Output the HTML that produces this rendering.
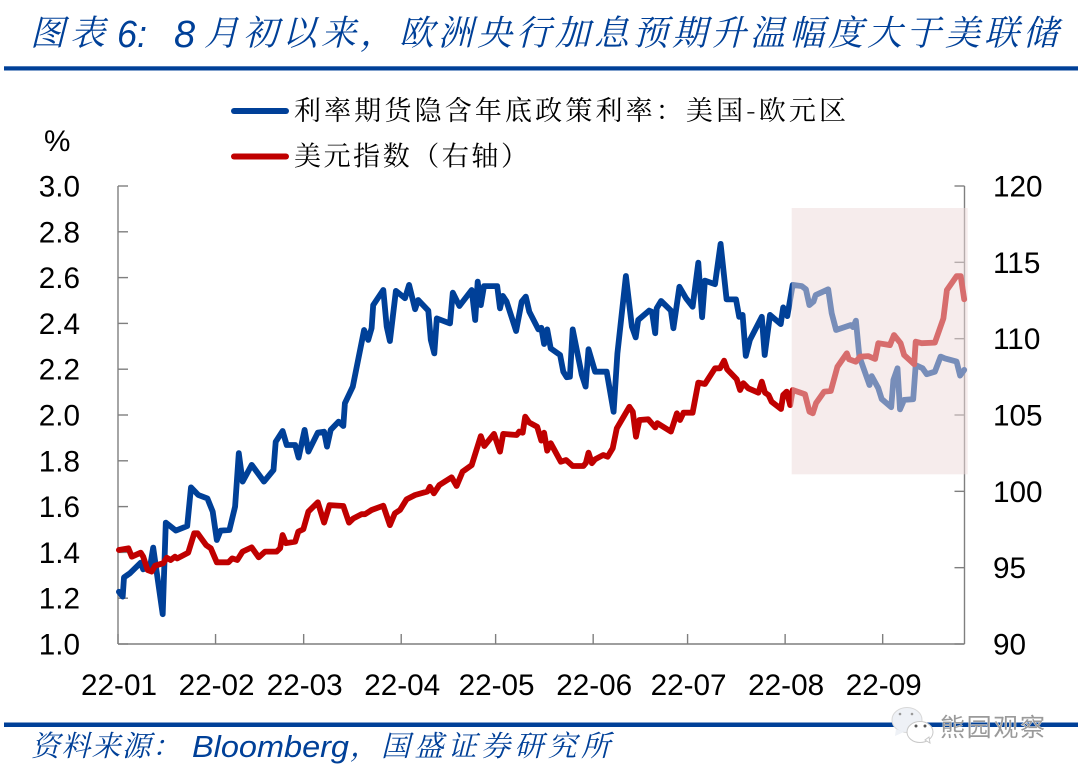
<!DOCTYPE html>
<html lang="zh">
<head>
<meta charset="utf-8">
<title>图表 6</title>
<style>
html,body{margin:0;padding:0;background:#fff;width:1080px;height:774px;overflow:hidden}
svg{display:block}
.tick-label{font-family:"Liberation Sans","Noto Sans CJK SC",sans-serif;font-size:29.7px;fill:#000}
.legend-text{font-family:"Noto Serif CJK SC","Liberation Serif",serif;font-size:27px;fill:#000}
.title-cjk{font-family:"Noto Serif CJK SC","Liberation Serif",serif;font-style:italic;font-size:35px;fill:#004098}
.title-latin{font-family:"Liberation Sans",sans-serif;font-style:italic;font-size:38px;fill:#004098}
.source-cjk{font-family:"Noto Serif CJK SC","Liberation Serif",serif;font-style:italic;font-size:29px;fill:#004098}
.source-latin{font-family:"Liberation Sans",sans-serif;font-style:italic;font-size:31px;fill:#004098}
</style>
</head>
<body>
<svg id="chart" xmlns="http://www.w3.org/2000/svg" width="1080" height="774" viewBox="0 0 1080 774">
  <g>
    <text class="title-cjk" x="30" y="45" textLength="75" lengthAdjust="spacing">图表</text>
    <text class="title-latin" x="117" y="47" textLength="30" lengthAdjust="spacingAndGlyphs">6:</text>
    <text class="title-latin" x="174" y="47">8</text>
    <text class="title-cjk" x="204" y="45" textLength="854" lengthAdjust="spacing">月初以来，欧洲央行加息预期升温幅度大于美联储</text>
  </g>
  <rect x="4" y="66.3" width="1074" height="4.2" fill="#004098"/>

  <line x1="234" y1="111" x2="286" y2="111" stroke="#004098" stroke-width="6" stroke-linecap="round"/>
  <text class="legend-text" x="294" y="120" textLength="552" lengthAdjust="spacing">利率期货隐含年底政策利率：美国-欧元区</text>
  <line x1="234" y1="156.5" x2="286" y2="156.5" stroke="#c00000" stroke-width="6" stroke-linecap="round"/>
  <text class="legend-text" x="294" y="165.5" textLength="234" lengthAdjust="spacing">美元指数（右轴）</text>
  <text class="tick-label" x="44" y="151">%</text>

  <g id="axes"></g>
  <g id="series"></g>
  <rect x="791.7" y="208" width="176" height="266.3" fill="rgb(238,217,217)" fill-opacity="0.5"/>

  <rect x="4" y="722.5" width="1074" height="4.5" fill="#004098"/>
  <g>
    <text class="source-cjk" x="31" y="756" textLength="150" lengthAdjust="spacing">资料来源：</text>
    <text class="source-latin" x="192" y="757" textLength="157" lengthAdjust="spacingAndGlyphs">Bloomberg</text>
    <text class="source-cjk" x="350" y="756">，</text>
    <text class="source-cjk" x="381" y="756" textLength="229" lengthAdjust="spacing">国盛证券研究所</text>
  </g>

  <g>
    <ellipse cx="907" cy="720" rx="15" ry="12.5" fill="#eef1f6" stroke="#d8d8d8" stroke-width="1"/>
    <path d="M896 729 L895 736 L904 732 Z" fill="#eef1f6"/>
    <circle cx="900" cy="714" r="1.3" fill="#999"/>
    <circle cx="912" cy="714" r="1.3" fill="#999"/>
    <ellipse cx="920" cy="732" rx="13" ry="10.5" fill="#fff" stroke="#c8c8c8" stroke-width="1"/>
    <path d="M925 740 L930 743 L929 737 Z" fill="#fff" stroke="#c8c8c8" stroke-width="1"/>
    <circle cx="916" cy="726" r="1.5" fill="#555"/>
    <circle cx="925" cy="726" r="1.5" fill="#555"/>
    <text x="940" y="736" textLength="105" lengthAdjust="spacing" font-size="25" fill="#9a9a9a" stroke="#ffffff" stroke-width="0.6" paint-order="stroke" font-family="'Noto Sans CJK SC',sans-serif">熊园观察</text>
  </g>
</svg>
<script>
// Chart data: days are counted from 2022-01-01
const monthLabels = ['22-01','22-02','22-03','22-04','22-05','22-06','22-07','22-08','22-09'];
const monthStartDays = [0,31,59,90,120,151,181,212,243];
const leftTickValues = [1.0,1.2,1.4,1.6,1.8,2.0,2.2,2.4,2.6,2.8,3.0];
const rightTickValues = [90,95,100,105,110,115,120];
const spreadDays = [0.3,1.5,1.9,3.8,7.2,8,10.2,11.2,14.2,15.2,18.4,22,23.2,25.5,28.4,30.1,31.4,32.6,35.4,37.2,38.4,39.6,42.5,46.4,49.4,50.1,52.3,53.6,56.3,57.4,59.3,60.5,63.5,65.5,66.4,67.6,70.1,71.6,72.1,74.6,78.2,79.5,80.6,81.1,84.3,85.4,86.4,88.3,91.2,92.5,94.4,95.4,98.6,99.4,100.5,101.3,105.5,106.4,108.5,112.4,113.5,114.3,115.3,116.3,120.5,121.4,122.3,123.5,126.5,128.3,129.6,130.7,133.6,134.5,135.4,136.4,137.5,140.5,141.5,142.6,143.6,144.5,147.4,148.6,149.5,151.6,155.3,157.5,158.7,161.4,163.3,164.5,165.3,168.8,169.7,170.7,171.2,172.6,175.7,176.5,178.4,180.5,182.6,184.4,185.6,186.5,189.7,191.5,193.4,196.4,197.4,198.5,199.5,200.8,204.6,205.5,207.2,210.6,211.4,212.7,214.4,217.3,218.6,219.7,221,221.7,225.7,226.8,228.2,232.9,233.6,234.5,235.6,238.8,239.5,241.6,242.7,245.7,246.4,247.7,248.5,249.8,252.7,253.5,255.7,257,259.6,261.4,262.8,266.5,267.6,268.9];
const spreadValues = [1.228,1.207,1.291,1.309,1.355,1.326,1.338,1.421,1.130,1.530,1.495,1.515,1.684,1.651,1.636,1.578,1.454,1.495,1.498,1.600,1.833,1.709,1.782,1.709,1.760,1.883,1.930,1.869,1.869,1.814,1.935,1.840,1.923,1.927,1.862,1.935,1.971,1.952,2.051,2.124,2.371,2.328,2.379,2.480,2.546,2.386,2.323,2.542,2.510,2.568,2.462,2.502,2.456,2.328,2.269,2.422,2.400,2.534,2.476,2.546,2.415,2.582,2.480,2.563,2.563,2.466,2.520,2.495,2.367,2.495,2.517,2.451,2.374,2.381,2.310,2.374,2.291,2.262,2.189,2.165,2.167,2.374,2.175,2.124,2.287,2.189,2.189,2.014,2.269,2.607,2.386,2.339,2.415,2.456,2.450,2.357,2.466,2.498,2.456,2.379,2.560,2.510,2.473,2.665,2.427,2.587,2.571,2.747,2.505,2.505,2.429,2.437,2.258,2.328,2.429,2.262,2.437,2.397,2.470,2.432,2.568,2.563,2.549,2.480,2.495,2.524,2.549,2.444,2.371,2.393,2.384,2.412,2.255,2.131,2.170,2.117,2.070,2.034,2.153,2.204,2.025,2.066,2.069,2.218,2.204,2.178,2.189,2.255,2.247,2.233,2.172,2.197];
const dollarDays = [0.3,3.3,4.4,7.2,8,9.4,10.7,11.8,14.4,15.5,16.7,18.1,18.8,22.3,24.2,25.3,28,29.5,31.4,35.1,36.3,37.9,39.6,42.5,44.7,46.7,50.4,51.5,52.3,53.4,56.3,57.3,58.9,60.5,63.5,65.5,67.2,71.6,73.4,74.8,77.4,78.5,80.6,84.3,86.4,88,89.6,91.7,94.4,98.3,99.1,100.4,102.1,106,107.6,109.5,112.4,115.3,116.4,119.5,121.4,122.4,126.7,127.5,128.6,129.4,130.7,133.2,134.5,135.4,136.4,137.5,140.7,142.4,144.5,147.9,148.7,149.5,150.6,151.6,154.2,155.6,157.2,158.5,162.5,163.6,164.6,165.7,168.5,170.7,171.4,175.7,177.6,178.6,179.7,182.6,184.4,186.5,189.7,191.3,192.6,193.6,196.6,197.7,198.7,200.3,203.5,204.6,205.6,206.7,207.7,210.7,211.4,212.5,213.6,214.4,218.3,219.7,220.8,221.8,224.4,226.5,228.6,231.6,232.3,234.5,235.8,238.4,240.6,241.6,245.3,246.6,248.7,249.8,253,253.5,255.4,259.6,262.3,263.4,266.5,267.8,268.9];
const dollarValues = [96.16,96.27,95.72,95.98,95.72,94.85,94.74,95.13,95.29,95.65,95.50,95.72,95.61,95.98,97.25,97.25,96.48,96.27,95.35,95.35,95.61,95.50,96.05,96.33,95.68,96.05,96.05,96.27,97.14,96.60,96.70,97.36,97.51,98.67,99.28,97.95,99.10,99.04,97.95,98.23,98.50,98.50,98.78,99.06,97.79,98.56,98.78,99.48,99.76,99.98,100.30,99.87,100.41,100.92,100.35,101.29,101.72,103.62,102.97,103.76,102.60,103.76,103.69,103.91,103.84,104.89,104.50,104.23,103.32,103.84,102.66,103.15,101.94,102.05,101.66,101.66,101.86,102.53,101.84,102.10,102.38,102.27,102.82,104.13,105.54,105.20,103.58,104.67,104.72,104.19,104.46,103.91,105.11,104.67,105.15,105.15,107.12,107.03,108.06,108.06,108.56,107.99,107.34,106.64,107.08,106.75,106.46,107.18,106.46,106.31,105.87,105.39,106.31,106.53,105.65,106.64,106.36,105.22,105.11,105.77,106.53,106.57,108.16,109.04,108.65,108.49,108.82,108.86,108.67,109.70,109.58,110.24,109.70,108.93,108.32,109.80,109.70,109.74,111.33,113.19,114.10,114.10,112.58];

const NS = 'http://www.w3.org/2000/svg';
const plot = {left: 118, right: 964.5, top: 186, bottom: 644};
const dayMax = 269;
function xScale(day) { return plot.left + (plot.right - plot.left) * day / dayMax; }
function yLeft(v) { return plot.bottom - (plot.bottom - plot.top) * (v - 1) / 2; }
function yRight(v) { return plot.bottom - (plot.bottom - plot.top) * (v - 90) / 30; }

const axes = document.getElementById('axes');
const seriesGroup = document.getElementById('series');
function axisLine(x1, y1, x2, y2) {
  const l = document.createElementNS(NS, 'line');
  l.setAttribute('x1', x1);
  l.setAttribute('y1', y1);
  l.setAttribute('x2', x2);
  l.setAttribute('y2', y2);
  l.setAttribute('stroke', '#7f7f7f');
  l.setAttribute('stroke-width', '1.4');
  axes.appendChild(l);
  return l;
}
function label(x, y, str, anchor) {
  const t = document.createElementNS(NS, 'text');
  t.setAttribute('class', 'tick-label');
  t.setAttribute('x', x);
  t.setAttribute('y', y);
  t.setAttribute('text-anchor', anchor);
  t.textContent = str;
  axes.appendChild(t);
  return t;
}

const leftAxis = axisLine(plot.left, plot.top, plot.left, plot.bottom);


const rightAxis = axisLine(plot.right, plot.top, plot.right, plot.bottom);


const bottomAxis = axisLine(plot.left, plot.bottom, plot.right, plot.bottom);



leftTickValues.forEach(function (v) {
  const y = yLeft(v);
  const tick = axisLine(plot.left, y, plot.left + 10, y);
  
  
  const txt = label(80, y + 10.5, v.toFixed(1), 'end');
  
  
});
rightTickValues.forEach(function (v) {
  const y = yRight(v);
  const tick = axisLine(plot.right - 10, y, plot.right, y);
  
  
  const txt = label(993, y + 10.5, String(v), 'start');
  
  
});
monthLabels.forEach(function (m, i) {
  const x = xScale(monthStartDays[i]);
  const tick = axisLine(x, plot.bottom - 10, x, plot.bottom);
  
  
  const txt = label(x + 1, 695, m, 'middle');
  
  
});

function buildPath(days, values, yFn) {
  return days.map(function (d, i) {
    return (i ? 'L' : 'M') + xScale(d).toFixed(1) + ' ' + yFn(values[i]).toFixed(1);
  }).join(' ');
}
const spreadLine = document.createElementNS(NS, 'path');
spreadLine.setAttribute('d', buildPath(spreadDays, spreadValues, yLeft));
spreadLine.setAttribute('fill', 'none');
spreadLine.setAttribute('stroke', '#004098');
spreadLine.setAttribute('stroke-width', '5.8');
spreadLine.setAttribute('stroke-linejoin', 'round');
spreadLine.setAttribute('stroke-linecap', 'round');


seriesGroup.appendChild(spreadLine);

const dollarLine = document.createElementNS(NS, 'path');
dollarLine.setAttribute('d', buildPath(dollarDays, dollarValues, yRight));
dollarLine.setAttribute('fill', 'none');
dollarLine.setAttribute('stroke', '#c00000');
dollarLine.setAttribute('stroke-width', '5.8');
dollarLine.setAttribute('stroke-linejoin', 'round');
dollarLine.setAttribute('stroke-linecap', 'round');


seriesGroup.appendChild(dollarLine);
</script>
</body>
</html>
